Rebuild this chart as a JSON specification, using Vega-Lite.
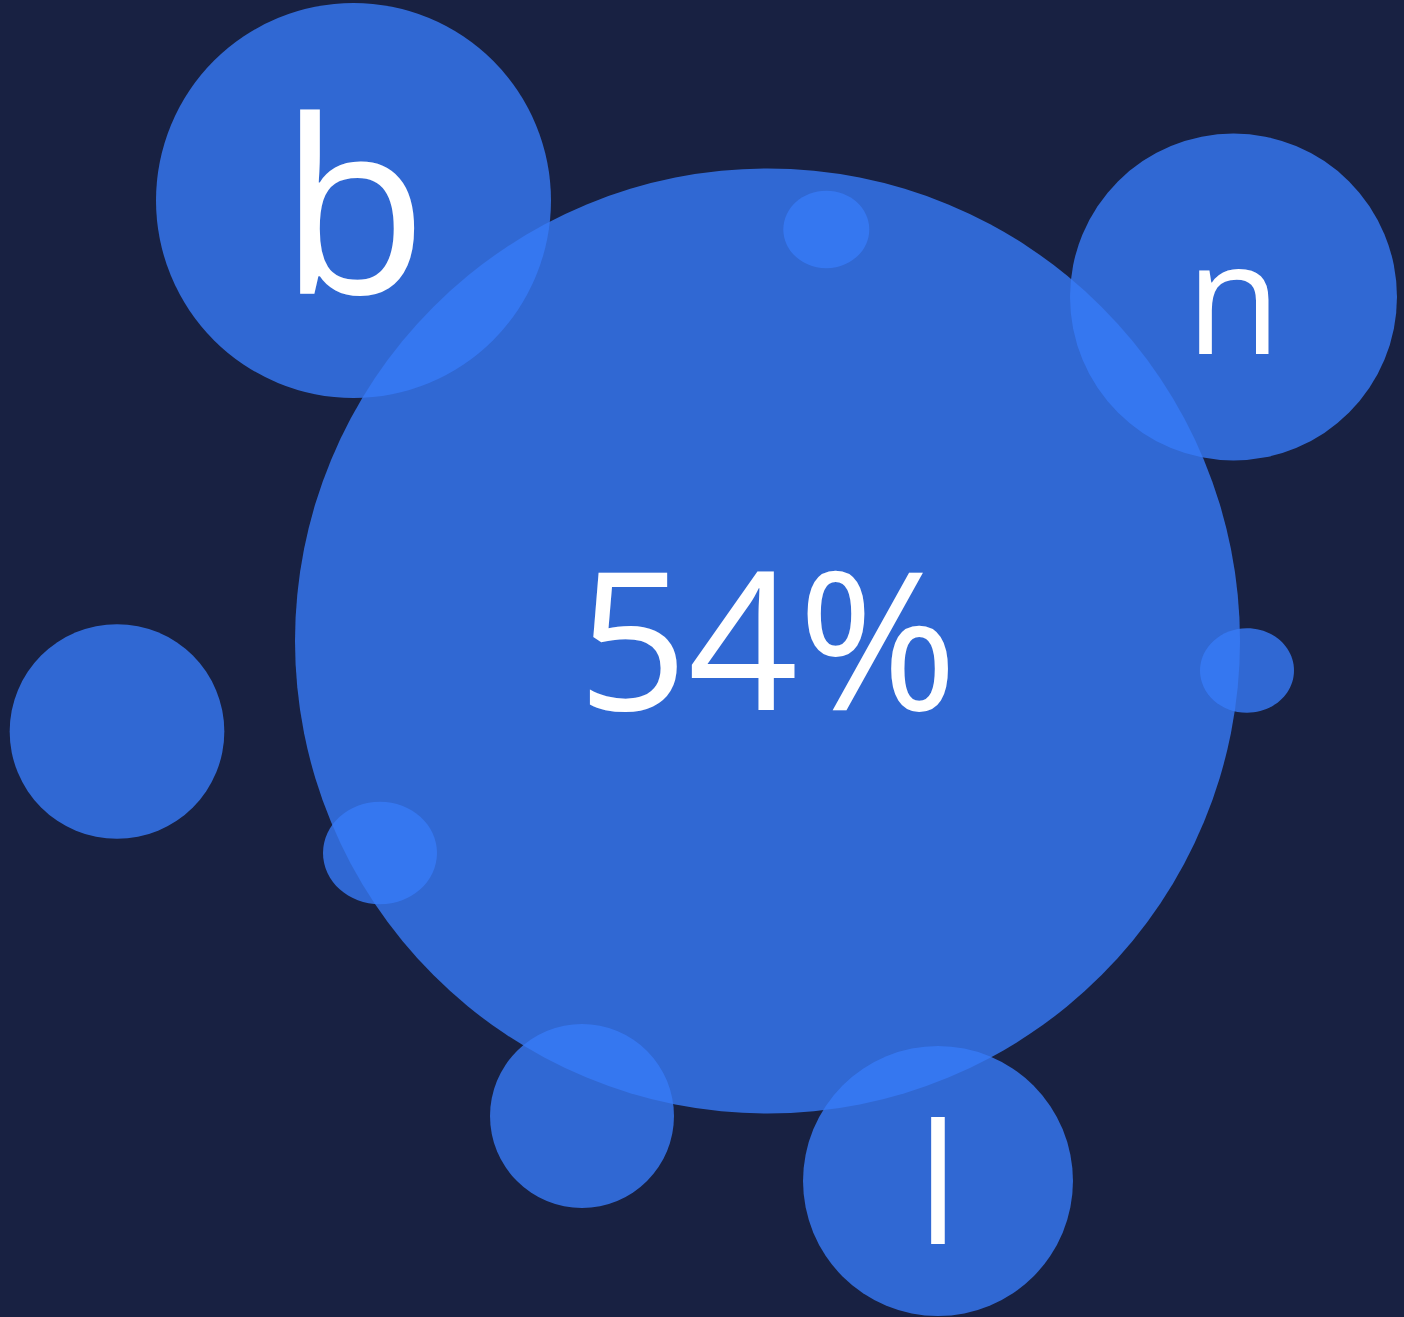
{
  "$schema": "https://vega.github.io/schema/vega-lite/v6.json",
  "width": 1404,
  "height": 1317,
  "padding": 0,
  "autosize": {"type": "none"},
  "background": "#182142",
  "config": {"view": {"stroke": null}},
  "datasets": {
    "bubbles": [
      {"label": "54%", "x": 767.5, "y": 641, "value": 100},
      {"label": "b", "x": 353.5, "y": 200.5, "value": 17.47},
      {"label": "n", "x": 1233.5, "y": 297, "value": 11.97},
      {"label": "", "x": 117, "y": 731.5, "value": 5.16},
      {"label": "", "x": 582, "y": 1116, "value": 3.79},
      {"label": "l", "x": 938, "y": 1181, "value": 8.16}
    ],
    "dots": [
      {"x": 826.3, "y": 229.5, "value": 0.828},
      {"x": 1247, "y": 670.5, "value": 0.989},
      {"x": 380, "y": 853, "value": 1.455}
    ]
  },
  "encoding": {
    "x": {"field": "x", "type": "quantitative", "axis": null, "scale": {"domain": [0, 1404], "nice": false, "zero": false}},
    "y": {"field": "y", "type": "quantitative", "axis": null, "scale": {"domain": [0, 1317], "nice": false, "zero": false, "reverse": true}}
  },
  "layer": [
    {
      "data": {"name": "bubbles"},
      "mark": {"type": "point", "shape": "circle", "filled": true, "color": "#377af8", "opacity": 0.8, "strokeWidth": 0},
      "encoding": {
        "size": {"field": "value", "type": "quantitative", "legend": null, "scale": {"type": "linear", "domain": [0, 100], "range": [0, 893025]}}
      }
    },
    {
      "data": {"name": "dots"},
      "mark": {"type": "point", "shape": "M-1,0A1,0.9,0,1,1,1,0A1,0.9,0,1,1,-1,0Z", "filled": true, "color": "#377af8", "opacity": 0.8, "strokeWidth": 0},
      "encoding": {
        "size": {"field": "value", "type": "quantitative", "legend": null, "scale": {"type": "linear", "domain": [0, 100], "range": [0, 893025]}}
      }
    },
    {
      "data": {"name": "bubbles"},
      "transform": [{"filter": "datum.label === '54%'"}],
      "mark": {"type": "text", "font": "Open Sans", "color": "#ffffff", "align": "center", "baseline": "middle", "dy": 11, "size": 193},
      "encoding": {"text": {"field": "label", "type": "nominal"}}
    },
    {
      "data": {"name": "bubbles"},
      "transform": [{"filter": "datum.label === 'b'"}],
      "mark": {"type": "text", "font": "Open Sans", "color": "#ffffff", "align": "center", "baseline": "middle", "dy": 20, "size": 242},
      "encoding": {"text": {"field": "label", "type": "nominal"}}
    },
    {
      "data": {"name": "bubbles"},
      "transform": [{"filter": "datum.label === 'n'"}],
      "mark": {"type": "text", "font": "Open Sans", "color": "#ffffff", "align": "center", "baseline": "middle", "dy": 10, "size": 155},
      "encoding": {"text": {"field": "label", "type": "nominal"}}
    },
    {
      "data": {"name": "bubbles"},
      "transform": [{"filter": "datum.label === 'l'"}],
      "mark": {"type": "text", "font": "Open Sans", "color": "#ffffff", "align": "center", "baseline": "middle", "dy": 13, "size": 166},
      "encoding": {"text": {"field": "label", "type": "nominal"}}
    }
  ],
  "resolve": {"scale": {"size": "independent"}}
}
